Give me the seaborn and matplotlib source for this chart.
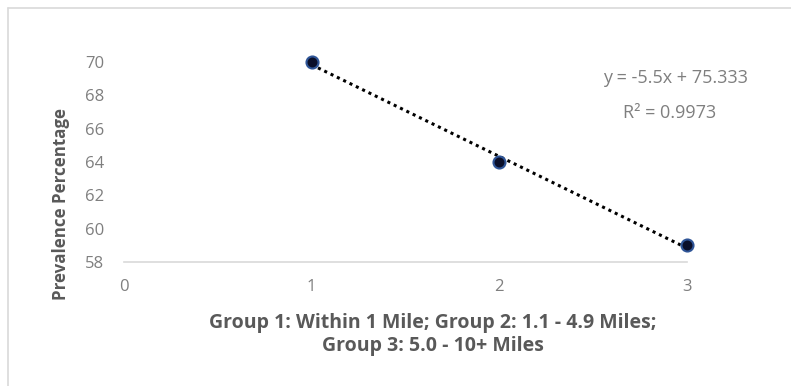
import matplotlib
matplotlib.use("Agg")
import matplotlib.pyplot as plt
import seaborn as sns
import numpy as np
import pandas as pd
from matplotlib.lines import Line2D

groups = [1, 2, 3]
prevalence = [70, 64, 59]
x_ticks = [0, 1, 2, 3]
y_ticks = [58, 60, 62, 64, 66, 68, 70]
equation_text = "y = -5.5x + 75.333"
r2_text = "R\u00b2 = 0.9973"
x_label = "Group 1: Within 1 Mile; Group 2: 1.1 - 4.9 Miles;\nGroup 3: 5.0 - 10+ Miles"
y_label = "Prevalence Percentage"

df = pd.DataFrame({"group": groups, "prevalence": prevalence})

sns.set_theme(style="white")
plt.rcParams['font.family'] = ['Open Sans', 'DejaVu Sans']

fig = plt.figure(figsize=(7.91, 3.86), dpi=100)
ax = fig.add_axes([124/791, 1-262/386, (687-124)/791, (262-62)/386])

sns.regplot(data=df, x="group", y="prevalence", ax=ax, scatter=False, ci=None,
            truncate=True,
            line_kws=dict(color="black", linestyle=(0, (1, 1.3)), linewidth=2.2))
sns.scatterplot(data=df, x="group", y="prevalence", ax=ax, s=75, color="#0a0f2a",
                edgecolor="#2f5597", linewidth=1.5, zorder=5, clip_on=False)

ax.set_xlim(0, 3)
ax.set_ylim(58, 70)
ax.set_xticks(x_ticks)
ax.set_yticks(y_ticks)
for s in ["top", "right", "left"]:
    ax.spines[s].set_visible(False)
ax.spines["bottom"].set_color("#d9d9d9")
ax.spines["bottom"].set_linewidth(1.2)
ax.tick_params(axis="both", length=0, labelsize=12, labelcolor="#7f7f7f")
ax.tick_params(axis="x", pad=12)
ax.tick_params(axis="y", pad=14)

ax.set_xlabel(x_label, fontsize=14, fontweight="bold", color="#595959",
              linespacing=1.2)
ax.set_ylabel(y_label, fontsize=12.2, fontweight="bold", color="#595959")
ax.xaxis.set_label_coords((433-124)/563, (262-313)/200)
ax.yaxis.set_label_coords((70-124)/563, (262-204)/200)

fig.text(676/791, 1-78/386, equation_text, ha="center", va="center",
         fontsize=13, color="#7f7f7f")
fig.text(670/791, 1-113/386, r2_text, ha="center", va="center",
         fontsize=13, color="#7f7f7f")

fig.add_artist(Line2D([8/791, 8/791], [0, 1-8/386], transform=fig.transFigure,
                      color="#d9d9d9", linewidth=1.2))
fig.add_artist(Line2D([8/791, 1], [1-8/386, 1-8/386], transform=fig.transFigure,
                      color="#d9d9d9", linewidth=1.2))

fig.savefig("out.png", dpi=100)
